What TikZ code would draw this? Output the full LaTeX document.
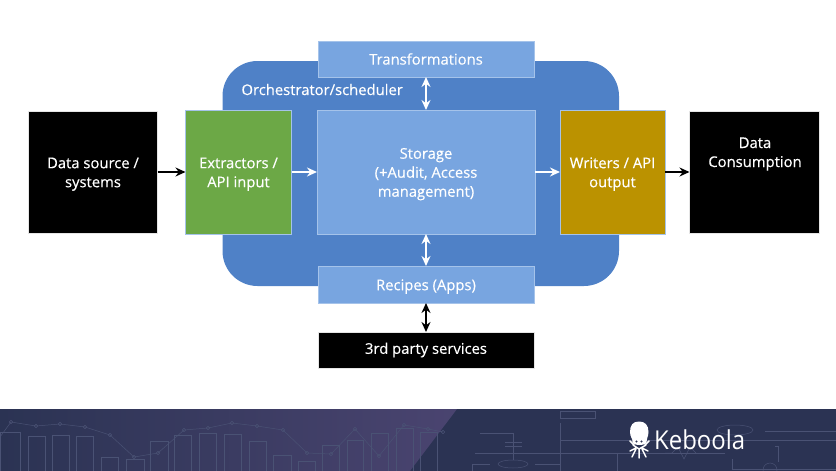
\documentclass[tikz,border=0pt]{standalone}
\usepackage{fontspec}
\setmainfont{Open Sans}
\newfontfamily\boxfont[FakeBold=0.35]{Open Sans}
\usetikzlibrary{arrows.meta}
\definecolor{orch}{HTML}{4F81C7}
\definecolor{lightb}{HTML}{78A5E0}
\definecolor{edgeb}{HTML}{A5C3EA}
\definecolor{greenb}{HTML}{6CA846}
\definecolor{goldb}{HTML}{BB9200}
\definecolor{band}{HTML}{2B3353}
\definecolor{bandr}{HTML}{4A4470}
\definecolor{faint}{HTML}{4A5274}
\newcommand\lowerline{\rule{0pt}{15pt}}
\tikzset{
  lbl/.style={text=white,align=center,font=\boxfont\fontsize{14.8}{19}\selectfont,inner sep=0pt,outer sep=0pt},
  box/.style={lbl,draw=edgeb,line width=.8pt,anchor=north west},
  lightbox/.style={box,fill=lightb},
  blackbox/.style={box,fill=black,draw=black!10},
  conn/.style={line width=1.5pt,-{Stealth[length=10pt,width=9pt]}},
  dconn/.style={line width=1.5pt,{Stealth[length=10pt,width=9pt]}-{Stealth[length=10pt,width=9pt]}},
  art/.style={draw=faint,line width=.5pt},
  wht/.style={white},
  blk/.style={black}
}
\begin{document}
\begin{tikzpicture}[x=1pt,y=-1pt]
\useasboundingbox (0,0) rectangle (836,471);
% footer band
\fill[band] (0,409) rectangle (836,471);
\begin{scope}
\clip (0,409) -- (457,409) -- (410,471) -- (0,471) -- cycle;
\shade[left color=band,right color=bandr] (0,409) rectangle (457,471);
\end{scope}
% footer line art
\draw[art] (0,437) -- (11,422) -- (36,426) -- (60,424) -- (85,427) -- (110,435) -- (134,457) -- (158,453) -- (184,430) -- (208,428) -- (232,423) -- (257,426) -- (283,430) -- (307,453) -- (331,454) -- (355,429) -- (379,456) -- (404,425) -- (428,429) -- (443,432);
\foreach \px/\py in {11/422,36/426,60/424,85/427,110/435,134/457,158/453,184/430,208/428,232/423,257/426,283/430,307/453,331/454,355/429,379/456,404/425,428/429,443/432}
  \draw[art] (\px,\py) circle (1.8pt);
\foreach \a/\b/\t in {0/20/432,28/45/436,52/69/435,76/93/436,101/118/457,126/144/459,150/168/441,174/191/435,199/216/433,224/241/434,249/266/441,273/291/455,298/315/461,322/339/445,347/363/440,371/388/433,396/413/428,420/437/432}
  \draw[art] (\a,471) -- (\a,\t) -- (\b,\t) -- (\b,471);
\draw[art] (560,471) -- (560,423);
\draw[art] (560,411) rectangle (595,418);
\draw[art] (560,440) -- (836,440);
\draw[art] (560,453) -- (725,453);
\draw[art] (775,446) -- (778,446) -- (778,462);
\draw[art] (732,459) -- (732,469) -- (836,469);
\draw[art] (480,433) -- (513,433) -- (513,460);
\draw[art] (475,453) -- (560,453);
\draw[art] (505,442) -- (522,442) (505,446) -- (522,446);
\draw[art] (472,471) -- (472,464) -- (490,464) (535,464) -- (560,464);
\draw[art] (513,464) ellipse (15pt and 4pt);
\draw[art] (735,430) ellipse (18pt and 5pt);
\draw[art] (765,431) -- (836,431);
\draw[art] (617,471) -- (617,453);
\draw[art] (770,470) circle (7pt);
\draw[art] (665,453) -- (672,453) -- (678,447) -- (684,459) -- (690,447) -- (696,453);
% orchestrator background
\fill[orch] (222.5,286) [rounded corners=35pt] -- (222.5,61) -- (619,61) -- (619,286) -- cycle;
% boxes
\node[lightbox,minimum width=216pt,minimum height=36pt] (transf) at (318,41) {Transformations};
\node[lightbox,minimum width=218pt,minimum height=124pt] (storage) at (317,110) {\lowerline Storage\\(+Audit, Access\\management)};
\node[lightbox,minimum width=216pt,minimum height=37pt] (recipes) at (318,266) {\lowerline Recipes (Apps)};
\node[blackbox,minimum width=216pt,minimum height=36pt] (third) at (318,332) {3rd party services};
\node[blackbox,minimum width=129pt,minimum height=122pt] (source) at (28.5,111) {\lowerline Data source /\\systems};
\node[box,fill=greenb,minimum width=106pt,minimum height=124pt] (extr) at (185.5,110) {\lowerline Extractors /\\API input};
\node[box,fill=goldb,minimum width=105pt,minimum height=124pt] (writers) at (560,110) {\lowerline Writers / API\\output};
\node[blackbox,minimum width=130pt,minimum height=122pt] (cons) at (689.5,111) {};
\node[lbl] (constext) at (755,154) {Data\\Consumption};
\node[lbl,anchor=west] (orchl) at (241.5,89.5) {Orchestrator/scheduler};
% connectors
\draw[conn,blk] (source) -- (extr);
\draw[conn,wht] (extr) -- (storage);
\draw[conn,wht] (storage) -- (writers);
\draw[conn,blk] (writers) -- (cons);
\draw[dconn,wht] (transf) -- (storage);
\draw[dconn,wht] (storage) -- (recipes);
\draw[dconn,blk] (recipes) -- (third);
% logo
\fill[white] (630,432) .. controls (630,425) and (633,421.5) .. (639,421.5) .. controls (645,421.5) and (648.5,425) .. (648.5,432) .. controls (648.5,437) and (646,439) .. (646.5,442) .. controls (646,446) and (633,446) .. (632.5,442) .. controls (633,439) and (630,437) .. (630,432) -- cycle;
\fill[band] (636.5,441.5) circle (1.2pt) (641.5,441.5) circle (1.2pt);
\draw[white,line width=1.5pt,line cap=round] (633,445) -- (639,449) -- (646,445)
  (630,441) -- (634,445) (649,441) -- (645,445)
  (639,449) -- (639,458)
  (636,448) -- (630,451) (642,448) -- (648,451)
  (636,449) -- (632,457) (642,449) -- (646,457);
\node[text=white,font=\fontsize{26}{26}\selectfont,inner sep=0pt,anchor=base west,xscale=.92] (logo) at (654,449) {Keboola};
\end{tikzpicture}
\end{document}
